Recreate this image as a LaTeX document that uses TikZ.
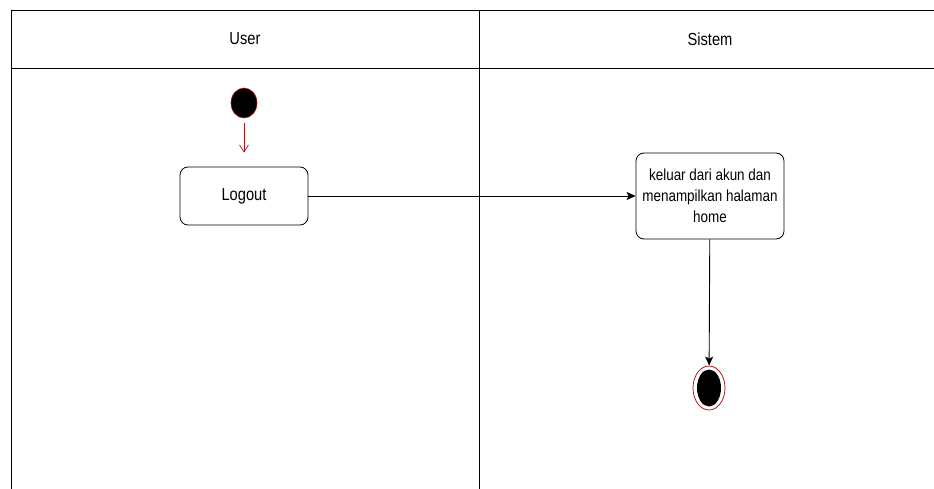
\documentclass[tikz,border=0pt]{standalone}
\usepackage{fontspec}
\setmainfont{Liberation Sans}[FakeStretch=0.84]
\usetikzlibrary{arrows.meta,shapes.geometric}
\definecolor{startred}{RGB}{180,20,20}
\begin{document}
\begin{tikzpicture}[x=1pt,y=-1pt,
  lane/.style={draw=black,line width=0.8pt},
  lanehead/.style={font=\fontsize{17.5}{20}\selectfont},
  action/.style={draw=black,line width=0.8pt,rounded corners=8pt,align=center,inner sep=0pt},
  flow/.style={draw=black,line width=0.9pt,-{Stealth[length=9pt,width=8pt,inset=2pt]}},
  startflow/.style={draw=startred,line width=0.7pt,shorten <=5pt,shorten >=14pt,-{Straight Barb[length=7pt,width=9pt]}}
]
\useasboundingbox (0,0) rectangle (934,489);
% swimlane frame
\draw[lane] (11,489) -- (11,10) -- (940,10);
\draw[lane] (11,68) -- (940,68);
\draw[lane] (479,10) -- (479,489);
\node[lanehead] (userhead) at (245,39) {User};
\node[lanehead] (sistemhead) at (710,39) {Sistem};
% initial node
\node[ellipse,fill=black,draw=startred,line width=0.6pt,minimum width=26pt,minimum height=30pt,inner sep=0pt] (start) at (244,103) {};
% actions
\node[action,minimum width=128pt,minimum height=58pt,font=\fontsize{17.5}{20}\selectfont] (logout) at (244,196) {Logout};
\node[action,minimum width=148pt,minimum height=86pt,font=\fontsize{16}{21}\selectfont] (keluar) at (710,196) {keluar dari akun dan\\menampilkan halaman\\home};
% final node
\node[ellipse,draw=startred,line width=0.8pt,minimum width=32pt,minimum height=44pt,inner sep=0pt] (final) at (709,388) {};
\node[ellipse,fill=black,minimum width=24pt,minimum height=37pt,inner sep=0pt] (finalin) at (709,388) {};
% flows
\draw[startflow] (start) -- (logout);
\draw[flow] (logout) -- (keluar);
\draw[flow] (keluar) -- (final);
\end{tikzpicture}
\end{document}
